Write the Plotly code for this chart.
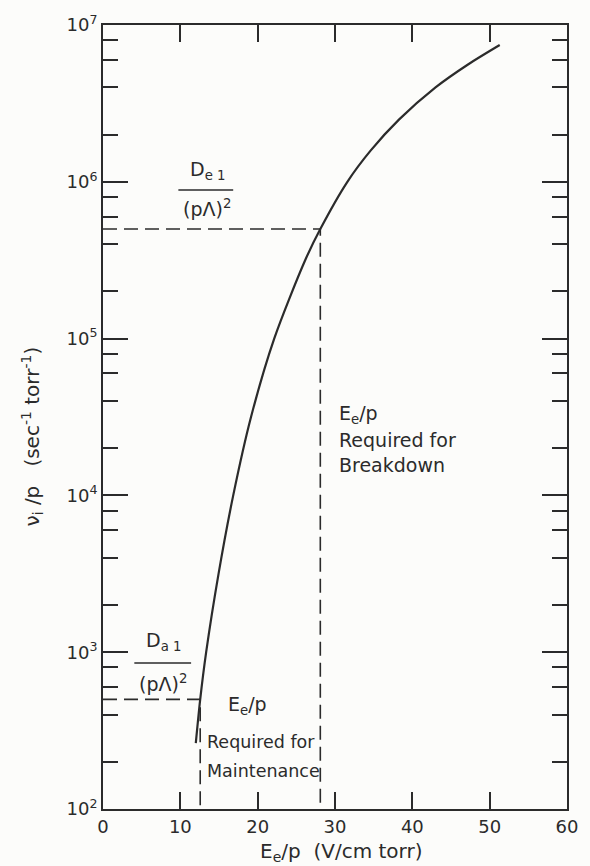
import plotly.graph_objects as go

# Ionization frequency per unit pressure vs. effective field
e_over_p = [12.0, 12.57, 13.34, 14.94, 16.84, 19.14, 22.14, 26.14, 28.1,
            31.6, 34.6, 38.3, 43.0, 47.2, 51.3]
nu_over_p = [263, 500, 1000, 3160, 10000, 31600, 100000, 316000, 500000,
             1.0e6, 1.58e6, 2.5e6, 4.0e6, 5.6e6, 7.45e6]

# Reference levels: diffusion-loss rates and the corresponding fields
maint_field, maint_rate = 12.57, 500
break_field, break_rate = 28.1, 500000

x_ticks = [0, 10, 20, 30, 40, 50, 60]
y_ticks = [1e2, 1e3, 1e4, 1e5, 1e6, 1e7]
y_tick_text = ["10<sup>2</sup>", "10<sup>3</sup>", "10<sup>4</sup>",
               "10<sup>5</sup>", "10<sup>6</sup>", "10<sup>7</sup>"]
y_minor = [m * d for d in [1e2, 1e3, 1e4, 1e5, 1e6] for m in (2, 4, 6, 8)]

INK = "#2b2b2b"
BG = "#fcfcfa"
FONT = "DejaVu Sans"

W, H = 590, 866
L, R, T, B = 103, 13, 25, 57


def px(x):
    return (x - L) / (W - L - R)


def py(y):
    return (H - B - y) / (H - T - B)


fig = go.Figure()

# dashed guide lines
dash = "14px,7px"
fig.add_trace(go.Scatter(x=[0, maint_field, maint_field], y=[maint_rate, maint_rate, 100],
                         mode="lines", line=dict(color=INK, width=1.6, dash=dash),
                         hoverinfo="skip"))
fig.add_trace(go.Scatter(x=[0, break_field, break_field], y=[break_rate, break_rate, 100],
                         mode="lines", line=dict(color=INK, width=1.6, dash=dash),
                         hoverinfo="skip"))

# main curve
fig.add_trace(go.Scatter(x=e_over_p, y=nu_over_p, mode="lines",
                         line=dict(color=INK, width=2.2, shape="spline", smoothing=0.8)))

tickfont = dict(family=FONT, size=18, color=INK)

fig.update_xaxes(range=[0, 60], tickvals=x_ticks, ticks="inside", ticklen=17,
                 tickwidth=1.6, tickcolor=INK, showline=True, linewidth=2,
                 linecolor=INK, mirror="ticks", showgrid=False, zeroline=False,
                 tickfont=tickfont)
fig.update_yaxes(type="log", range=[2, 7], tickvals=y_ticks, ticktext=y_tick_text,
                 ticks="inside", ticklen=25, tickwidth=1.6, tickcolor=INK,
                 showline=True, linewidth=2, linecolor=INK, mirror="ticks",
                 showgrid=False, zeroline=False, tickfont=tickfont,
                 minor=dict(tickvals=y_minor, ticks="inside", ticklen=15,
                            tickwidth=1.6, tickcolor=INK, showgrid=False))

ann = []


def note(text, x, y, xanchor="center", size=18, textangle=0):
    ann.append(dict(text=text, x=px(x), y=py(y), xref="paper", yref="paper",
                    xanchor=xanchor, yanchor="middle", showarrow=False,
                    textangle=textangle,
                    font=dict(family=FONT, size=size, color=INK)))


# electron diffusion term
note("D<sub>e </sub><sub>1</sub>", 210, 170, size=19)
note("(pΛ)<sup>2</sup>", 209, 208, size=19)
# ambipolar diffusion term
note("D<sub>a </sub><sub>1</sub>", 165, 641, size=19)
note("(pΛ)<sup>2</sup>", 164, 683, size=19)

# field labels
note("E<sub>e</sub>/p", 342, 414, xanchor="left", size=19)
note("Required for", 342, 440, xanchor="left", size=19)
note("Breakdown", 342, 465, xanchor="left", size=19)
note("E<sub>e</sub>/p", 229, 705, xanchor="left", size=19)
note("Required for", 207, 742, xanchor="left", size=17.5)
note("Maintenance", 207, 771, xanchor="left", size=17.5)

# axis titles
note("E<sub>e</sub>/p  (V/cm torr)", 346, 852, size=20)
note("ν<sub>i</sub> /p   (sec<sup>-1</sup> torr<sup>-1</sup>)", 30, 437, size=20, textangle=-90)

shapes = [
    dict(type="line", xref="paper", yref="paper", x0=px(180), x1=px(236),
         y0=py(190), y1=py(190), line=dict(color=INK, width=1.6)),
    dict(type="line", xref="paper", yref="paper", x0=px(135), x1=px(193),
         y0=py(663), y1=py(663), line=dict(color=INK, width=1.6)),
]

fig.update_layout(width=W, height=H, margin=dict(l=L, r=R, t=T, b=B),
                  paper_bgcolor=BG, plot_bgcolor=BG, showlegend=False,
                  annotations=ann, shapes=shapes,
                  font=dict(family=FONT, size=17, color=INK))

fig.write_html("out.html")
